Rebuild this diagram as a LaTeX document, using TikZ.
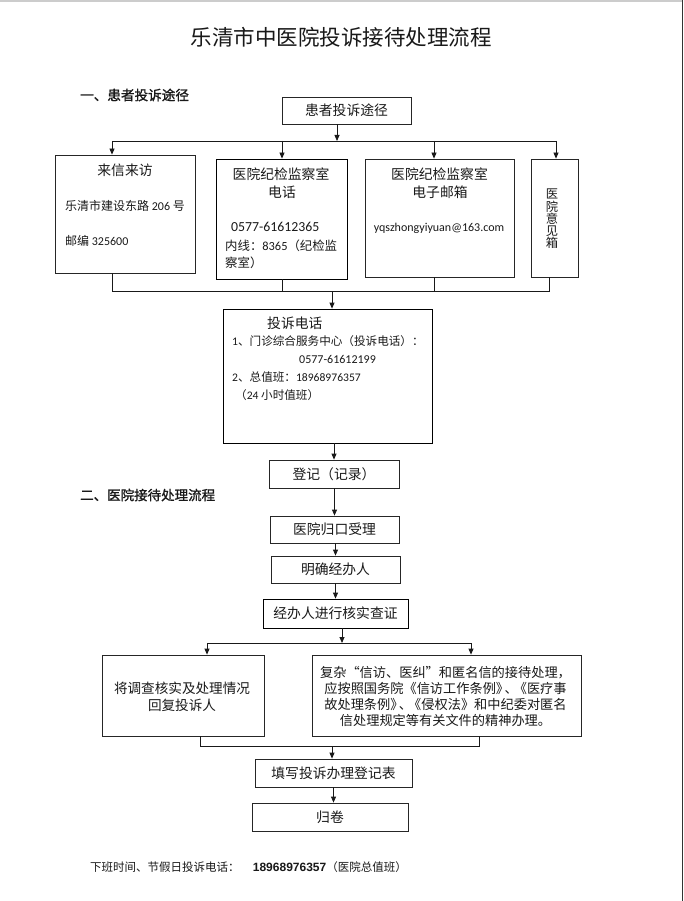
\documentclass[tikz,border=0pt]{standalone}
\usepackage{fontspec}
\setmainfont{Noto Sans CJK SC}
\newfontfamily\lat{Carlito}
\newfontfamily\arialf{Liberation Sans}
\newfontfamily\hb{Noto Sans CJK SC}[FakeBold=1.2]
\newcommand\dg[1]{{\lat #1}}
\newcommand\fsz[2]{\fontsize{#1}{#2}\selectfont}
\newcommand\pj{》\kern-0.35em、\kern-0.3em《}
\usetikzlibrary{arrows.meta}
\tikzset{
  box/.style={draw=black!85, line width=0.8pt, inner sep=0pt},
  arr/.style={-{Triangle[length=6pt,width=5pt]}, line width=0.8pt, draw=black!90},
  ln/.style={line width=0.8pt, draw=black!90},
  txt/.style={inner sep=0pt, text=black!90},
  bt/.style={txt, font=\fsz{13.8}{16}},
  st/.style={txt, font=\fsz{12}{14}},
}
\begin{document}
\begin{tikzpicture}[x=1pt,y=-1pt]
\useasboundingbox (0,0) rectangle (683,901);
\fill[white] (0,0) rectangle (683,901);
\draw[black!20, line width=2pt] (0,1) -- (683,1);
\draw[black!80, line width=1.5pt] (682.25,0) -- (682.25,901);

% title and headings
\node[txt, font=\fsz{21.5}{26}] (title) at (341,37) {乐清市中医院投诉接待处理流程};
\node[txt, anchor=west, font={\hb\fsz{13.6}{16}}] (h1) at (80,95) {一、患者投诉途径};
\node[txt, anchor=west, font={\hb\fsz{13.5}{16}}] (h2) at (80,495) {二、医院接待处理流程};

% part one boxes
\node[box, bt, minimum width=129, minimum height=27] (top) at (346.5,110.5) {患者投诉途径};
\node[box, minimum width=140, minimum height=118] (laixin) at (125,214) {};
\node[box, draw=black, minimum width=131, minimum height=120] (dianhua) at (281.5,219) {};
\node[box, minimum width=149, minimum height=118] (email) at (439.5,218) {};
\node[box, minimum width=47, minimum height=118] (yijian) at (554.5,218) {};

\node[bt] (laixinT) at (125,170) {来信来访};
\node[st, anchor=west] (laixinA) at (65,206) {乐清市建设东路 \dg{206} 号};
\node[st, anchor=west] (laixinB) at (65,241) {邮编 \dg{325600}};

\node[bt] (dianhuaT1) at (281,174) {医院纪检监察室};
\node[bt] (dianhuaT2) at (282,192) {电话};
\node[txt, anchor=west, font={\lat\fsz{13.8}{16}}] (dianhuaN) at (231,227) {0577-61612365};
\node[st, anchor=west, font=\fsz{12.4}{14}] (dianhuaE1) at (225,246) {内线：\dg{8365}（纪检监};
\node[st, anchor=west, font=\fsz{12.4}{14}] (dianhuaE2) at (225,263) {察室）};

\node[bt] (emailT1) at (439.5,174) {医院纪检监察室};
\node[bt] (emailT2) at (440,192) {电子邮箱};
\node[txt, font={\lat\fsz{12}{14}}] (emailA) at (439,228) {yqszhongyiyuan@163.com};

\node[txt, font=\fsz{12.3}{12.3}, align=center] (yijianT) at (552,219) {医\\院\\意\\见\\箱};

% part one connectors
\coordinate (b1) at (337,141);
\coordinate (b1L) at (112,141);
\coordinate (b1b) at (282,141);
\coordinate (b1c) at (434,141);
\coordinate (b1R) at (556,141);
\draw[arr] (top.south -| b1) -- (b1);
\draw[ln] (b1L) -- (b1R);
\draw[arr] (b1L) -- (b1L |- laixin.north);
\draw[arr] (b1b) -- (b1b |- dianhua.north);
\draw[arr] (b1c) -- (b1c |- email.north);
\draw[arr] (b1R) -- (b1R |- yijian.north);

\coordinate (b2L) at (112,291);
\coordinate (b2b) at (282,291);
\coordinate (b2) at (332,291);
\coordinate (b2c) at (434,291);
\coordinate (b2R) at (549,291);
\draw[ln] (laixin.south -| b2L) -- (b2L) -- (b2R) -- (yijian.south -| b2R);
\draw[ln] (dianhua.south -| b2b) -- (b2b);
\draw[ln] (email.south -| b2c) -- (b2c);

% complaint phone box
\node[box, draw=black, minimum width=209, minimum height=134] (tousu) at (327.5,376) {};
\draw[arr] (b2) -- (b2 |- tousu.north);
\node[bt, anchor=west] (tousuT) at (267,323) {投诉电话};
\node[txt, anchor=west, font=\fsz{11.6}{14}] (tousu1) at (232,341) {\dg{1}、门诊综合服务中心（投诉电话）：};
\node[txt, anchor=west, font={\lat\fsz{12}{14}}] (tousu2) at (299,359) {0577-61612199};
\node[txt, anchor=west, font=\fsz{11.6}{14}] (tousu3) at (232,377) {\dg{2}、总值班：\dg{18968976357}};
\node[txt, anchor=west, font=\fsz{11.6}{14}] (tousu4) at (235,395) {（\dg{24} 小时值班）};

% part two
\node[box, bt, minimum width=130, minimum height=28] (dengji) at (334,474) {登记（记录）};
\node[box, bt, minimum width=129, minimum height=27] (guikou) at (334.5,529.5) {医院归口受理};
\node[box, bt, minimum width=129, minimum height=27] (mingque) at (335.5,569.5) {明确经办人};
\node[box, bt, draw=black, minimum width=145, minimum height=29] (hecha) at (335.5,613.5) {经办人进行核实查证};

\draw[arr] (tousu.south -| dengji.north) -- (dengji.north);
\draw[arr] (dengji.south -| guikou.north) -- (guikou.north);
\draw[arr] (guikou.south -| mingque.north) -- (mingque.north);
\draw[arr] (mingque.south -| hecha.north) -- (hecha.north);

\node[box, minimum width=162, minimum height=81] (lbox) at (183,695.5) {};
\node[box, minimum width=269, minimum height=81] (rbox) at (446.5,695.5) {};
\node[txt, font=\fsz{13.6}{17}, align=center] (lboxT) at (182,696.5) {将调查核实及处理情况\\回复投诉人};
\node[txt, font=\fsz{13.2}{15.8}, align=center] (rboxT) at (445.5,696.5) {复杂“信访、医纠”和匿名信的接待处理，\\应按照国务院《信访工作条例\pj 医疗事\\故处理条例\pj 侵权法》和中纪委对匿名\\信处理规定等有关文件的精神办理。};

\coordinate (b3) at (342,643);
\coordinate (b3L) at (207,643);
\coordinate (b3R) at (471,643);
\draw[arr] (hecha.south -| b3) -- (b3);
\draw[ln] (b3L) -- (b3R);
\draw[arr] (b3L) -- (b3L |- lbox.north);
\draw[arr] (b3R) -- (b3R |- rbox.north);

\node[box, bt, minimum width=157, minimum height=28] (tianxie) at (333.5,773) {填写投诉办理登记表};
\node[box, bt, minimum width=156, minimum height=28] (guijuan) at (330,817) {归卷};

\coordinate (b4L) at (200,746);
\coordinate (b4) at (332,746);
\coordinate (b4R) at (479,746);
\draw[ln] (lbox.south -| b4L) -- (b4L) -- (b4R) -- (rbox.south -| b4R);
\draw[arr] (b4) -- (b4 |- tianxie.north);
\draw[arr] (tianxie.south) -- (tianxie.south |- guijuan.north);

% footer
\node[txt, anchor=west, font=\fsz{11.5}{14}] (foot1) at (90,867) {下班时间、节假日投诉电话：};
\node[txt, anchor=west, font=\fsz{11.5}{14}] (foot2) at (252.7,867) {{\arialf\bfseries\fontsize{12}{14}\selectfont 18968976357}（医院总值班）};
\end{tikzpicture}
\end{document}
